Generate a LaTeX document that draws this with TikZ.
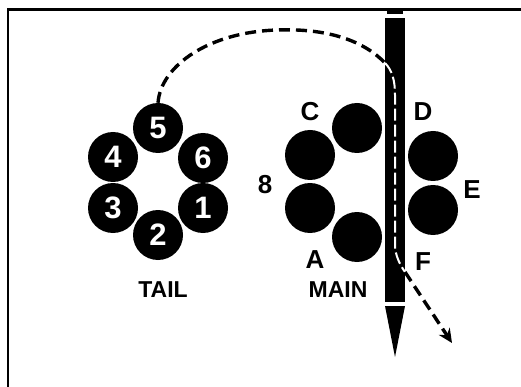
\documentclass[tikz,border=0pt]{standalone}
\usepackage{fontspec}
\setmainfont{Liberation Sans}
\usetikzlibrary{arrows.meta}
\begin{document}
\begin{tikzpicture}[x=1pt,y=-1pt,
  ball/.style={circle,fill=black,minimum size=50pt,inner sep=0pt,text=white,font=\fontsize{31}{31}\selectfont\bfseries},
  lab/.style={inner sep=0pt,font=\fontsize{26}{26}\selectfont\bfseries},
  captxt/.style={inner sep=0pt,font=\fontsize{23}{23}\selectfont\bfseries},
  route/.style={line width=3.4pt,dash pattern=on 11pt off 6pt},
  inroute/.style={white,line width=2pt,dash pattern=on 12pt off 4pt}]
\useasboundingbox (0,0) rectangle (521,387);
% frame
\draw[line width=2.8pt] (8,387) -- (8,9.4) -- (521,9.4);
% needle
\fill (385,18) rectangle (405,302);
\fill (387,10) rectangle (403,14);
\fill (385,306) -- (405,306) -- (395,357) -- cycle;
% tail circles
\node[ball] (t5) at (158,128) {5};
\node[ball] (t4) at (113,157) {4};
\node[ball] (t6) at (203,158) {6};
\node[ball] (t3) at (113,208) {3};
\node[ball] (t1) at (203,208) {1};
\node[ball] (t2) at (158,235) {2};
\node[captxt] (tail) at (163,290) {TAIL};
% main circles
\node[ball] (mc) at (357,128) {};
\node[ball] (m8u) at (310,155) {};
\node[ball] (m8l) at (310,208) {};
\node[ball] (ma) at (357,237) {};
\node[ball] (md) at (433,156) {};
\node[ball] (mf) at (433,210) {};
\node[lab] (lc) at (310,112) {C};
\node[lab] (ld) at (423,112) {D};
\node[lab] (l8) at (265,185) {8};
\node[lab] (le) at (472,190) {E};
\node[lab] (la) at (315,260) {A};
\node[lab] (lf) at (423,262) {F};
\node[captxt] (main) at (338,290) {MAIN};
% route
\coordinate (p1) at (385,63);
\coordinate (p2) at (405,272);
\coordinate (p3) at (452,343);
\draw[route] (t5.north) .. controls (161,65) and (210,32) .. (277,30)
  .. controls (330,28) and (365,42) .. (p1);
\draw[inroute] (p1) .. controls (392,70) and (395,80) .. (395,95) -- (395,245)
  .. controls (395,255) and (400,265) .. (p2);
\draw[route,-{Stealth[length=14pt,width=13pt]}] (p2) -- (p3);
\end{tikzpicture}
\end{document}
